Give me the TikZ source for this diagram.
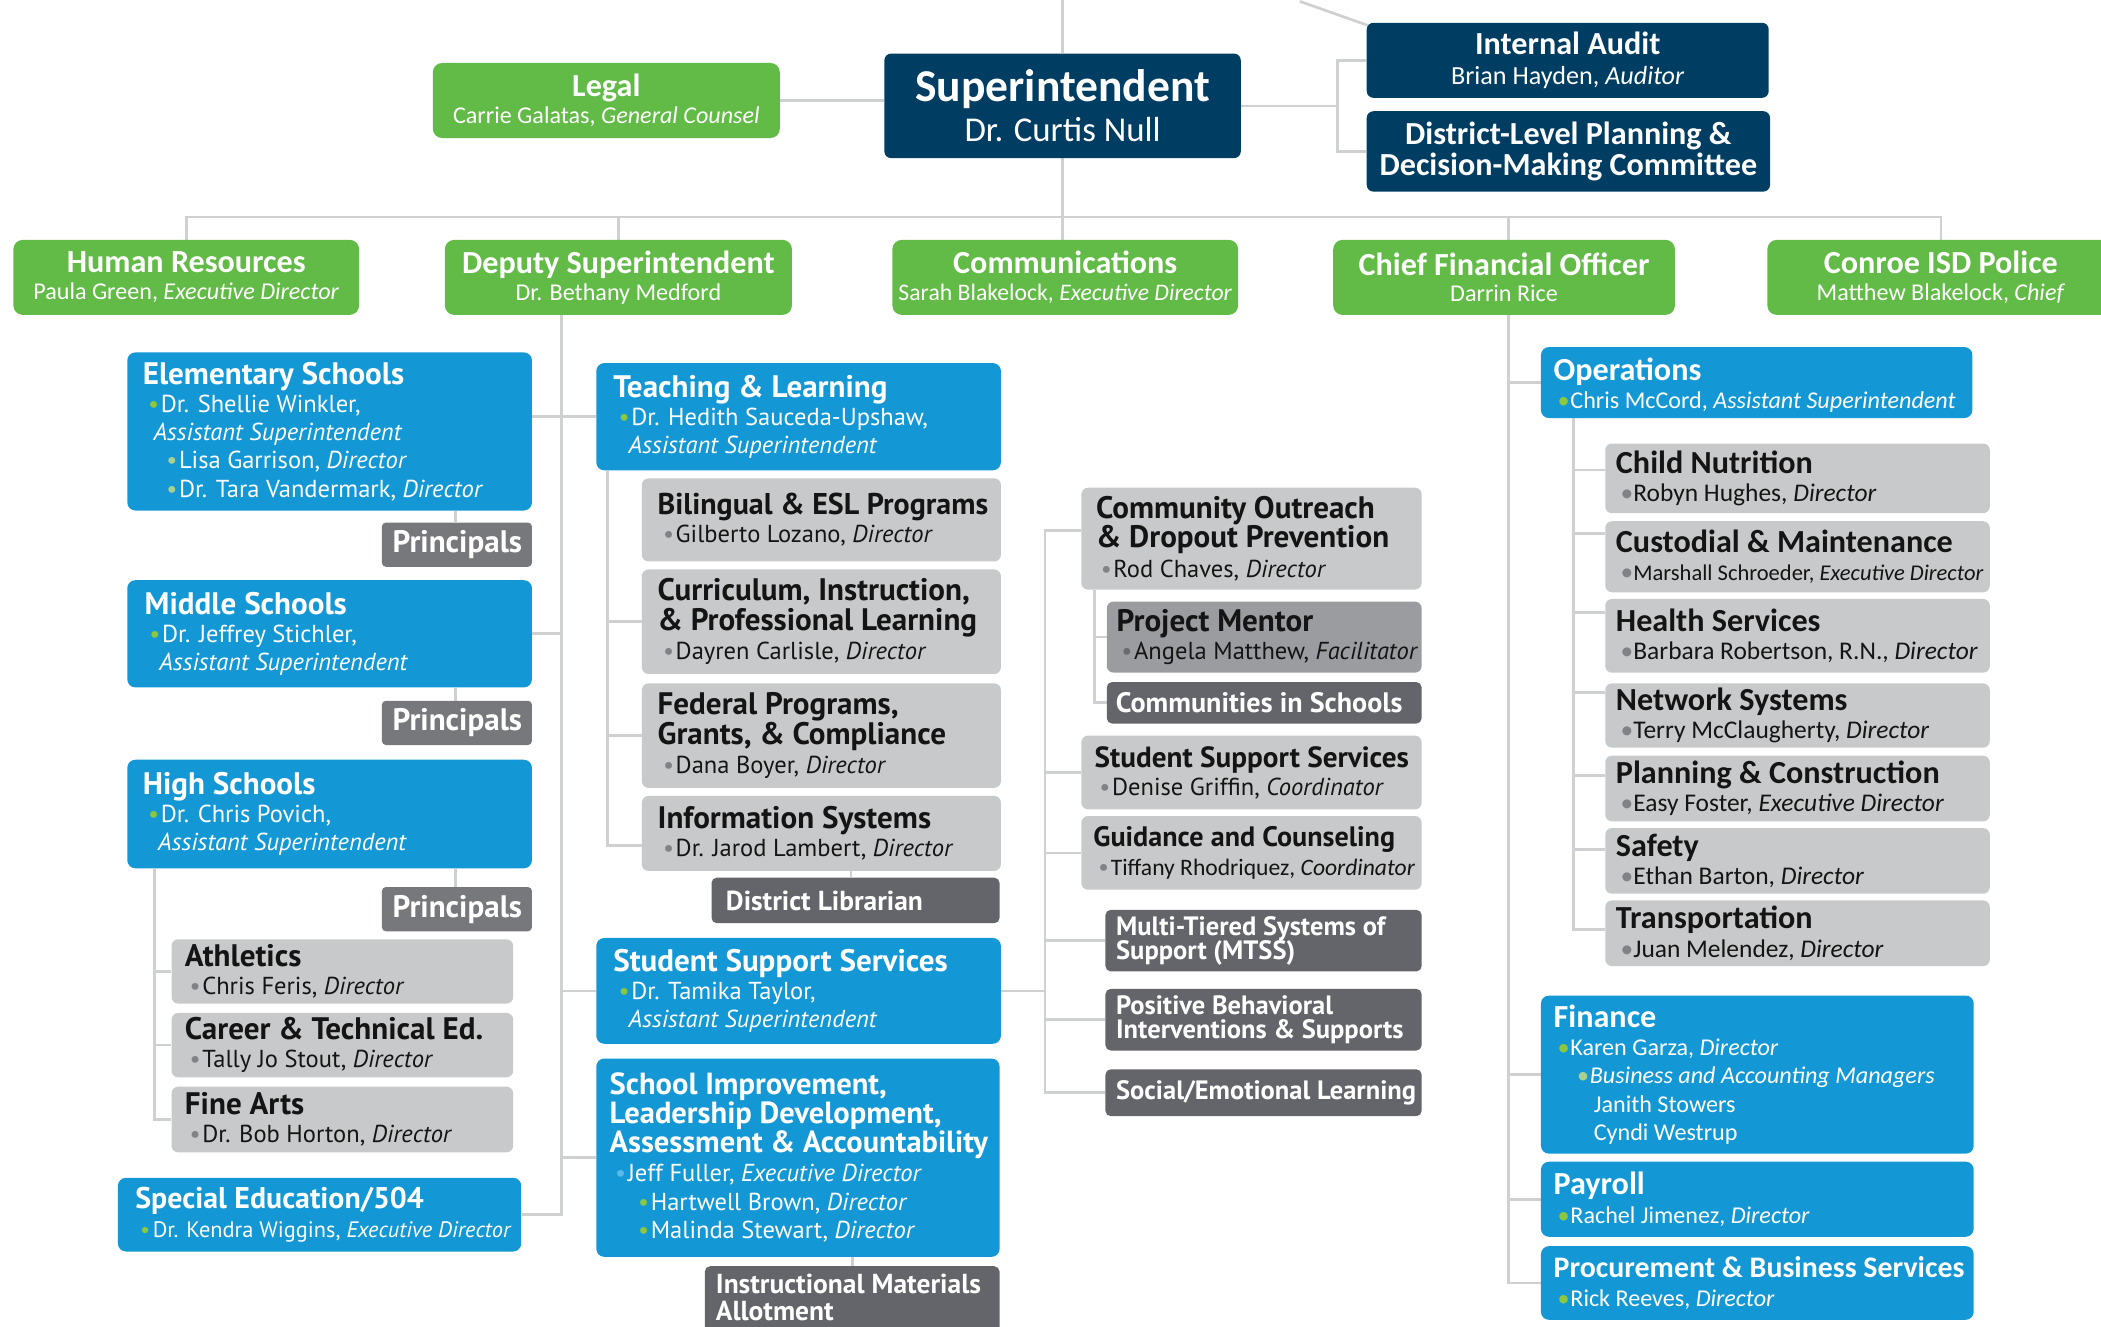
\documentclass[tikz,border=0pt]{standalone}
\usepackage{fontspec}
\setmainfont{PT Sans}
\newfontfamily\cf{Carlito}
\usetikzlibrary{fit,backgrounds}
\definecolor{navy}{RGB}{0,61,99}
\definecolor{grn}{RGB}{98,187,70}
\definecolor{blu}{RGB}{19,152,213}
\definecolor{lgr}{RGB}{200,201,202}
\definecolor{mgr}{RGB}{155,156,159}
\definecolor{dgr}{RGB}{99,101,106}
\definecolor{pgr}{RGB}{119,120,124}
\definecolor{lnc}{RGB}{207,208,209}
\definecolor{bgr}{RGB}{141,198,63}
\definecolor{bpl}{RGB}{170,208,140}
\definecolor{bgy}{RGB}{128,130,133}
\definecolor{bdk}{RGB}{105,106,110}
\definecolor{blt}{RGB}{90,185,230}
\definecolor{ink}{RGB}{20,20,20}
\newcommand\dotb[1]{\makebox[9.5pt][l]{\textcolor{#1}{\textbullet}}}
\newcommand\hd{\fontsize{23.2}{22}\selectfont\bfseries}
\newcommand\hdx[1]{\fontsize{#1}{22}\selectfont\bfseries\ignorespaces}
\newcommand\hdc{\fontsize{24}{24}\selectfont\bfseries}
\newcommand\mkbox[6]{%
  \coordinate (#2-nw) at (#3,#4);
  \coordinate (#2-se) at (#5,#6);
  \node[#1, fit=(#2-nw)(#2-se), inner sep=0pt] (#2) {};}
\newcommand\lefttext[5]{\node[#1, anchor=west] (#2-t) at ([xshift=#3pt,yshift=#4pt]#2.west) {#5};}
\newcommand\ctrtext[4]{\node[#1] (#2-t) at ([yshift=#3pt]#2.center) {#4};}
\tikzset{
  conn/.style={draw=lnc, line width=2pt},
  navyb/.style={fill=navy, rounded corners=5pt},
  greenb/.style={fill=grn, rounded corners=7pt},
  blueb/.style={fill=blu, rounded corners=6pt},
  greyb/.style={fill=lgr, rounded corners=5pt},
  midb/.style={fill=mgr, rounded corners=5pt},
  darkb/.style={fill=dgr, rounded corners=4pt},
  prinb/.style={fill=pgr, rounded corners=3pt},
  bluetxt/.style={text=white, inner sep=0pt, align=left, font=\fontsize{18.3}{21}\selectfont},
  greytxt/.style={text=ink, inner sep=0pt, align=left, font=\fontsize{18.3}{21}\selectfont},
  cbluetxt/.style={text=white, inner sep=0pt, align=left, font=\cf\fontsize{18}{21}\selectfont},
  cgreytxt/.style={text=ink, inner sep=0pt, align=left, font=\cf\fontsize{19}{21}\selectfont},
  darktxt/.style={text=white, inner sep=0pt, align=left, font=\fontsize{20.5}{20}\selectfont\bfseries},
  greentxt/.style={text=white, inner sep=0pt, align=center, font=\cf\fontsize{18}{20}\selectfont},
  navytxt/.style={text=white, inner sep=0pt, align=center, font=\cf\fontsize{19.5}{22.5}\selectfont},
}
\begin{document}
\lineskiplimit=-100pt
\begin{tikzpicture}[x=1pt,y=-1pt]
\useasboundingbox (0,0) rectangle (1568,990);
% ---- top level
\mkbox{navyb}{sup}{660}{40}{926}{118}
\ctrtext{navytxt,font=\cf\fontsize{26}{29.5}\selectfont}{sup}{0}{{\fontsize{34}{34}\selectfont\bfseries Superintendent}\\Dr. Curtis Null}
\mkbox{greenb}{legal}{323}{47}{582}{103}
\ctrtext{greentxt}{legal}{0}{{\hdc Legal}\\Carrie Galatas, \textit{General Counsel}}
\mkbox{navyb}{ia}{1020}{17}{1320}{73}
\ctrtext{navytxt}{ia}{0}{{\hdc Internal Audit}\\Brian Hayden, \textit{Auditor}}
\mkbox{navyb}{dlp}{1020}{83}{1321}{143}
\ctrtext{navytxt,font=\cf\fontsize{24}{23}\selectfont\bfseries}{dlp}{0}{District-Level Planning \&\\Decision-Making Committee}
% ---- level 2
\mkbox{greenb}{hr}{10}{179}{268}{235}
\ctrtext{greentxt}{hr}{0}{{\hdc Human Resources}\\Paula Green, \textit{Executive Director}}
\mkbox{greenb}{dep}{332}{179}{591}{235}
\ctrtext{greentxt}{dep}{0}{{\hdc Deputy Superintendent}\\Dr. Bethany Medford}
\mkbox{greenb}{comm}{666}{179}{924}{235}
\ctrtext{greentxt,font=\cf\fontsize{17.7}{20}\selectfont}{comm}{0}{{\hdc Communications}\\Sarah Blakelock, \textit{Executive Director}}
\mkbox{greenb}{cfo}{995}{179}{1250}{235}
\ctrtext{greentxt}{cfo}{0}{{\hdc Chief Financial Officer}\\Darrin Rice}
\mkbox{greenb}{pol}{1319}{179}{1578}{235}
\ctrtext{greentxt}{pol}{0}{{\hdc Conroe ISD Police}\\Matthew Blakelock, \textit{Chief}}
% ---- left column
\mkbox{blueb}{elem}{95}{263}{397}{381}
\lefttext{bluetxt}{elem}{11.6}{0}{{\hd Elementary Schools}\\
\hspace*{4pt}\dotb{bgr}Dr. Shellie Winkler,\\
\hspace*{8pt}\textit{Assistant Superintendent}\\
\hspace*{17.5pt}\dotb{bpl}Lisa Garrison, \textit{Director}\\
\hspace*{17.5pt}\dotb{bpl}Dr. Tara Vandermark, \textit{Director}}
\mkbox{prinb}{pr1}{285}{390}{397}{423}
\lefttext{darktxt,font=\fontsize{23.2}{22}\selectfont\bfseries}{pr1}{8}{0}{Principals}
\mkbox{blueb}{mid}{95}{433}{397}{513}
\lefttext{bluetxt}{mid}{13}{0}{{\hd Middle Schools}\\
\hspace*{3.5pt}\dotb{bgr}Dr. Jeffrey Stichler,\\
\hspace*{11pt}\textit{Assistant Superintendent}}
\mkbox{prinb}{pr2}{285}{523}{397}{556}
\lefttext{darktxt,font=\fontsize{23.2}{22}\selectfont\bfseries}{pr2}{8}{0}{Principals}
\mkbox{blueb}{high}{95}{567}{397}{648}
\lefttext{bluetxt}{high}{11.6}{0}{{\hd High Schools}\\
\hspace*{4pt}\dotb{bgr}Dr. Chris Povich,\\
\hspace*{11.5pt}\textit{Assistant Superintendent}}
\mkbox{prinb}{pr3}{285}{662}{397}{695}
\lefttext{darktxt,font=\fontsize{23.2}{22}\selectfont\bfseries}{pr3}{8}{0}{Principals}
\mkbox{greyb}{ath}{128}{701}{383}{749}
\lefttext{greytxt}{ath}{10}{0}{{\hd Athletics}\\\hspace*{3.5pt}\dotb{bgy}Chris Feris, \textit{Director}}
\mkbox{greyb}{cte}{128}{756}{383}{804}
\lefttext{greytxt}{cte}{10}{0}{{\hd Career \& Technical Ed.}\\\hspace*{3.5pt}\dotb{bgy}Tally Jo Stout, \textit{Director}}
\mkbox{greyb}{fa}{128}{811}{383}{860}
\lefttext{greytxt}{fa}{10}{0}{{\hd Fine Arts}\\\hspace*{3.5pt}\dotb{bgy}Dr. Bob Horton, \textit{Director}}
\mkbox{blueb}{sped}{88}{879}{389}{934}
\lefttext{bluetxt,font=\fontsize{16.7}{21}\selectfont}{sped}{13}{0}{{\hdx{22.3}Special Education/504}\\
\hspace*{3.5pt}\dotb{bgr}Dr. Kendra Wiggins, \textit{Executive Director}}
% ---- teaching & learning column
\mkbox{blueb}{tl}{445}{271}{747}{351}
\lefttext{bluetxt}{tl}{12.7}{0}{{\hd Teaching \& Learning}\\
\hspace*{4pt}\dotb{bgr}Dr. Hedith Sauceda-Upshaw,\\
\hspace*{11.5pt}\textit{Assistant Superintendent}}
\mkbox{greyb}{bil}{479}{357}{747}{419}
\lefttext{greytxt}{bil}{11.8}{0}{{\hdx{22.4}Bilingual \& ESL Programs}\\\hspace*{4pt}\dotb{bgy}Gilberto Lozano, \textit{Director}}
\mkbox{greyb}{cur}{479}{425}{747}{503}
\lefttext{greytxt,font=\fontsize{18.3}{22}\selectfont}{cur}{11.8}{0}{{\hd Curriculum, Instruction,}\\{\hd \& Professional Learning}\\\hspace*{4pt}\dotb{bgy}Dayren Carlisle, \textit{Director}}
\mkbox{greyb}{fed}{479}{510}{747}{588}
\lefttext{greytxt,font=\fontsize{18.3}{22}\selectfont}{fed}{11.8}{0}{{\hd Federal Programs,}\\{\hd Grants, \& Compliance}\\\hspace*{4pt}\dotb{bgy}Dana Boyer, \textit{Director}}
\mkbox{greyb}{is}{479}{594}{747}{650}
\lefttext{greytxt}{is}{11.8}{0}{{\hd Information Systems}\\\hspace*{4pt}\dotb{bgy}Dr. Jarod Lambert, \textit{Director}}
\mkbox{darkb}{lib}{531}{655}{746}{689}
\lefttext{darktxt}{lib}{10.8}{0}{District Librarian}
\mkbox{blueb}{sss}{445}{700}{747}{779}
\lefttext{bluetxt}{sss}{12.7}{0}{{\hd Student Support Services}\\
\hspace*{4pt}\dotb{bgr}Dr. Tamika Taylor,\\
\hspace*{11.5pt}\textit{Assistant Superintendent}}
\mkbox{blueb}{sch}{445}{790}{746}{938}
\lefttext{bluetxt,font=\fontsize{18.3}{21.5}\selectfont}{sch}{10}{0}{{\hdx{22.8}School Improvement,}\\{\hdx{22.8}Leadership Development,}\\{\hdx{22.8}Assessment \& Accountability}\\
\hspace*{4pt}\dotb{blt}Jeff Fuller, \textit{Executive Director}\\
\hspace*{21.2pt}\dotb{bgr}Hartwell Brown, \textit{Director}\\
\hspace*{21.2pt}\dotb{bgr}Malinda Stewart, \textit{Director}}
\mkbox{darkb}{ima}{526}{945}{746}{1000}
\lefttext{darktxt}{ima}{8.3}{4.5}{Instructional Materials\\Allotment}
% ---- student support column
\mkbox{greyb}{co}{807}{364}{1061}{440}
\lefttext{greytxt,font=\fontsize{18.3}{22}\selectfont}{co}{11}{0}{{\hd Community Outreach}\\{\hd \& Dropout Prevention}\\\hspace*{3.5pt}\dotb{bgy}Rod Chaves, \textit{Director}}
\mkbox{midb}{pm}{826}{449}{1061}{502}
\lefttext{greytxt}{pm}{7.4}{0}{{\hd Project Mentor}\\\hspace*{3.5pt}\dotb{bdk}Angela Matthew, \textit{Facilitator}}
\mkbox{darkb}{cis}{826}{509}{1061}{540}
\lefttext{darktxt,font=\fontsize{21}{20}\selectfont\bfseries}{cis}{6.8}{0}{Communities in Schools}
\mkbox{greyb}{sss2}{807}{549}{1061}{604}
\lefttext{greytxt}{sss2}{10}{0}{{\hdx{21.8}Student Support Services}\\\hspace*{3.5pt}\dotb{bgy}Denise Griffin, \textit{Coordinator}}
\mkbox{greyb}{gc}{807}{609}{1061}{664}
\lefttext{greytxt}{gc}{9}{0}{{\fontsize{21}{21}\selectfont\bfseries Guidance and Counseling}\\\hspace*{3.5pt}\dotb{bgy}{\cf\fontsize{17.6}{18}\selectfont Tiffany Rhodriquez, \textit{Coordinator}}}
\mkbox{darkb}{mtss}{825}{679}{1061}{725}
\lefttext{darktxt,font=\fontsize{19.8}{18}\selectfont\bfseries}{mtss}{8}{0}{Multi-Tiered Systems of\\Support (MTSS)}
\mkbox{darkb}{pbis}{825}{738}{1061}{784}
\lefttext{darktxt,font=\fontsize{19.8}{18}\selectfont\bfseries}{pbis}{8}{0}{Positive Behavioral\\Interventions \& Supports}
\mkbox{darkb}{sel}{825}{798}{1061}{833}
\lefttext{darktxt,font=\fontsize{19.8}{19}\selectfont\bfseries}{sel}{8}{0}{Social/Emotional Learning}
% ---- CFO column
\mkbox{blueb}{ops}{1150}{259}{1472}{312}
\lefttext{cbluetxt}{ops}{9.5}{-2}{{\hdc Operations}\\\hspace*{3pt}\dotb{bgr}Chris McCord, \textit{Assistant Superintendent}}
\mkbox{greyb}{cn}{1198}{331}{1485}{383}
\lefttext{cgreytxt}{cn}{8}{0}{{\hdc Child Nutrition}\\\hspace*{3.5pt}\dotb{bgy}Robyn Hughes, \textit{Director}}
\mkbox{greyb}{cm}{1198}{389}{1485}{442}
\lefttext{cgreytxt}{cm}{8}{0}{{\hdc Custodial \& Maintenance}\\\hspace*{3.5pt}\dotb{bgy}{\fontsize{16.8}{17}\selectfont Marshall Schroeder, \textit{Executive Director}}}
\mkbox{greyb}{hs}{1198}{447}{1485}{502}
\lefttext{cgreytxt}{hs}{8}{0}{{\hdc Health Services}\\\hspace*{3.5pt}\dotb{bgy}Barbara Robertson, R.N., \textit{Director}}
\mkbox{greyb}{ns}{1198}{510}{1485}{558}
\lefttext{cgreytxt}{ns}{8}{0}{{\hdc Network Systems}\\\hspace*{3.5pt}\dotb{bgy}Terry McClaugherty, \textit{Director}}
\mkbox{greyb}{pc}{1198}{564}{1485}{613}
\lefttext{cgreytxt}{pc}{8}{0}{{\hdc Planning \& Construction}\\\hspace*{3.5pt}\dotb{bgy}Easy Foster, \textit{Executive Director}}
\mkbox{greyb}{saf}{1198}{618}{1485}{667}
\lefttext{cgreytxt}{saf}{8}{0}{{\hdc Safety}\\\hspace*{3.5pt}\dotb{bgy}Ethan Barton, \textit{Director}}
\mkbox{greyb}{tr}{1198}{672}{1485}{721}
\lefttext{cgreytxt}{tr}{8}{0}{{\hdc Transportation}\\\hspace*{3.5pt}\dotb{bgy}Juan Melendez, \textit{Director}}
\mkbox{blueb}{fin}{1150}{743}{1473}{861}
\lefttext{cbluetxt}{fin}{9.5}{0}{{\hdc Finance}\\
\hspace*{3pt}\dotb{bgr}Karen Garza, \textit{Director}\\
\hspace*{17.5pt}\dotb{bpl}\textit{Business and Accounting Managers}\\
\hspace*{30pt}Janith Stowers\\
\hspace*{30pt}Cyndi Westrup}
\mkbox{blueb}{pay}{1150}{867}{1473}{923}
\lefttext{cbluetxt}{pay}{9.5}{0}{{\hdc Payroll}\\\hspace*{3pt}\dotb{bgr}Rachel Jimenez, \textit{Director}}
\mkbox{blueb}{proc}{1150}{930}{1473}{985}
\lefttext{cbluetxt}{proc}{9.5}{0}{{\fontsize{22.3}{23}\selectfont\bfseries Procurement \& Business Services}\\\hspace*{3pt}\dotb{bgr}Rick Reeves, \textit{Director}}
% ---- connectors
\begin{scope}[on background layer]
\coordinate (topin) at (793,0);
\draw[conn] (topin) -- (sup.north);
\coordinate (dg1) at (970,1);
\coordinate (dg2) at (1021,19);
\draw[conn] (dg1) -- (dg2);
\draw[conn] (legal.east) -- (legal.east -| sup.west);
\coordinate (jr) at (998,79);
\draw[conn] (sup.east |- jr) -- (jr);
\draw[conn] (ia.west) -| (jr) |- (dlp.west);
\coordinate (bus) at (793,162);
\draw[conn] (sup.south) -- (bus);
\draw[conn] (hr.north) |- (bus) -| (pol.north);
\draw[conn] (dep.north) -- (dep.north |- bus);
\draw[conn] (bus) -- (bus |- comm.north);
\coordinate (cfx) at (1126,162);
\draw[conn] (cfx) -- (cfx |- proc.west) -- (proc.west);
\foreach \n in {ops,fin,pay} \draw[conn] (cfx |- \n.west) -- (\n.west);
% deputy
\coordinate (dx) at (419,0);
\draw[conn] (dx |- dep.south) -- (dx |- sped.east) -- (sped.east);
\draw[conn] (tl.west) -- (tl.west -| elem.east);
\draw[conn] (mid.east) -- (mid.east -| dx);
\draw[conn] (sss.west) -- (sss.west -| dx);
\draw[conn] (sch.west) -- (sch.west -| dx);
\coordinate (px) at (340,0);
\draw[conn] (px |- elem.south) -- (px |- pr1.north);
\draw[conn] (px |- mid.south) -- (px |- pr2.north);
\draw[conn] (px |- high.south) -- (px |- pr3.north);
\coordinate (hx) at (115.5,0);
\draw[conn] (hx |- high.south) |- (fa.west);
\draw[conn] (hx |- ath.west) -- (ath.west);
\draw[conn] (hx |- cte.west) -- (cte.west);
\coordinate (tx) at (453.5,0);
\coordinate (isb) at ([yshift=-9pt]is.west);
\draw[conn] (tx |- tl.south) |- (isb);
\draw[conn] (tx |- cur.west) -- (cur.west);
\draw[conn] (tx |- fed.west) -- (fed.west);
\coordinate (lx) at (635,0);
\draw[conn] (lx |- is.south) -- (lx |- lib.north);
\coordinate (mx) at (636,0);
\draw[conn] (mx |- sch.south) -- (mx |- ima.north);
\coordinate (vx) at (780,0);
\coordinate (cob) at ([yshift=6pt]co.west);
\draw[conn] (sss.east) -- (sss.east -| vx);
\draw[conn] (cob) -| (vx |- sel.west) -- (sel.west);
\foreach \n in {sss2,gc,mtss,pbis} \draw[conn] (vx |- \n.west) -- (\n.west);
\coordinate (cx) at (817,0);
\draw[conn] (cx |- co.south) |- (cis.west);
\draw[conn] (cx |- pm.west) -- (pm.west);
\coordinate (ox) at (1174.5,0);
\coordinate (cn-b) at ([yshift=-20pt]cn.north west);
\coordinate (cm-b) at ([yshift=-9.5pt]cm.north west);
\coordinate (hs-b) at ([yshift=-10.5pt]hs.north west);
\coordinate (ns-b) at ([yshift=-7pt]ns.north west);
\coordinate (pc-b) at ([yshift=-15pt]pc.north west);
\coordinate (saf-b) at ([yshift=-16pt]saf.north west);
\coordinate (tr-b) at ([yshift=-22pt]tr.north west);
\draw[conn] (ox |- ops.south) |- (tr-b);
\foreach \n in {cn,cm,hs,ns,pc,saf} \draw[conn] (ox |- \n-b) -- (\n-b);
\end{scope}
\end{tikzpicture}
\end{document}
